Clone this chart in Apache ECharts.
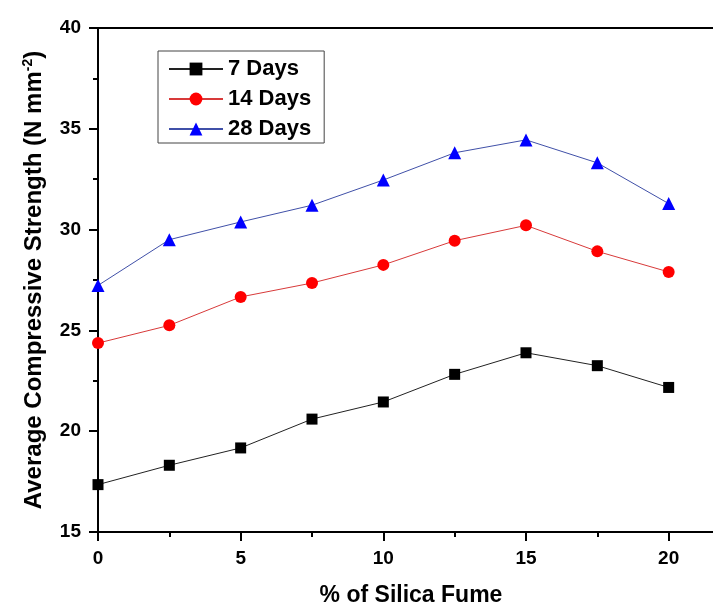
<!DOCTYPE html>
<html>
<head>
<meta charset="utf-8">
<script src="https://cdn.jsdelivr.net/npm/echarts@6/dist/echarts.min.js"></script>
<style>html,body{margin:0;padding:0;background:#fff}#c{width:713px;height:606px}</style>
</head>
<body>
<div id="c"></div>
<script>
const silicaFume = [0, 2.5, 5, 7.5, 10, 12.5, 15, 17.5, 20];
const days7 = [17.35, 18.31, 19.17, 20.6, 21.45, 22.82, 23.89, 23.25, 22.17];
const days14 = [24.37, 25.25, 26.66, 27.35, 28.25, 29.45, 30.21, 28.92, 27.9];
const days28 = [27.23, 29.5, 30.38, 31.21, 32.46, 33.81, 34.45, 33.31, 31.29];
const seriesNames = ['7 Days', '14 Days', '28 Days'];
const xTitle = '% of Silica Fume';
const yTitle = 'Average Compressive Strength (N mm';

const FONT = '"Liberation Sans", Arial, sans-serif';
const pair = arr => silicaFume.map((x, i) => [x, arr[i]]);

const chart = echarts.init(document.getElementById('c'), null, {renderer: 'canvas'});
chart.setOption({
  animation: false,
  backgroundColor: '#fff',
  grid: {left: 98, top: 28, height: 504, width: 642, outerBoundsMode: 'none', containLabel: false,
    show: true, borderColor: '#000', borderWidth: 2, backgroundColor: 'transparent'},
  legend: {
    left: 158, top: 51, orient: 'vertical',
    borderColor: '#444', borderWidth: 1,
    padding: [7, 13, 3, 10],
    itemWidth: 54, itemHeight: 16, itemGap: 8,
    textStyle: {fontFamily: FONT, fontWeight: 'bold', fontSize: 22, color: '#000', lineHeight: 21},
    data: seriesNames
  },
  xAxis: {
    type: 'value', min: 0, max: 22.5, interval: 5,
    name: xTitle, nameLocation: 'middle', nameGap: 52,
    nameTextStyle: {fontFamily: FONT, fontWeight: 'bold', fontSize: 23, color: '#000', padding: [0, 16, 0, 0]},
    axisLine: {onZero: false, lineStyle: {color: '#000', width: 2}},
    axisTick: {length: 9, lineStyle: {width: 2, color: '#000'}},
    minorTick: {show: true, splitNumber: 2, length: 5, lineStyle: {width: 2, color: '#000'}},
    axisLabel: {fontFamily: FONT, fontWeight: 'bold', fontSize: 19, color: '#000', margin: 17,
      formatter: v => (v % 5 === 0 ? String(v) : '')},
    splitLine: {show: false}
  },
  yAxis: {
    type: 'value', min: 15, max: 40, interval: 5,
    name: '{a|' + yTitle + '}{s|-2}{a|)}', nameLocation: 'middle', nameGap: 52, nameRotate: 90,
    nameTextStyle: {
      rich: {
        a: {fontFamily: FONT, fontWeight: 'bold', fontSize: 24, color: '#000', lineHeight: 25, verticalAlign: 'bottom'},
        s: {fontFamily: FONT, fontWeight: 'bold', fontSize: 14, color: '#000', lineHeight: 25, verticalAlign: 'top'}
      }
    },
    axisLine: {onZero: false, lineStyle: {color: '#000', width: 2}},
    axisTick: {length: 9, lineStyle: {width: 2, color: '#000'}},
    minorTick: {show: true, splitNumber: 2, length: 5, lineStyle: {width: 2, color: '#000'}},
    axisLabel: {fontFamily: FONT, fontWeight: 'bold', fontSize: 19, color: '#000', margin: 17},
    splitLine: {show: false}
  },
  series: [
    {name: seriesNames[0], type: 'line', data: pair(days7), symbol: 'rect', symbolSize: 11,
      itemStyle: {color: '#000'}, lineStyle: {color: '#222', width: 1}},
    {name: seriesNames[1], type: 'line', data: pair(days14), symbol: 'circle', symbolSize: 12,
      itemStyle: {color: '#ff0000'}, lineStyle: {color: '#d83a3a', width: 1}},
    {name: seriesNames[2], type: 'line', data: pair(days28), symbol: 'triangle', symbolSize: 13,
      itemStyle: {color: '#0000ff'}, lineStyle: {color: '#4050a8', width: 1}}
  ]
});
</script>
</body>
</html>
